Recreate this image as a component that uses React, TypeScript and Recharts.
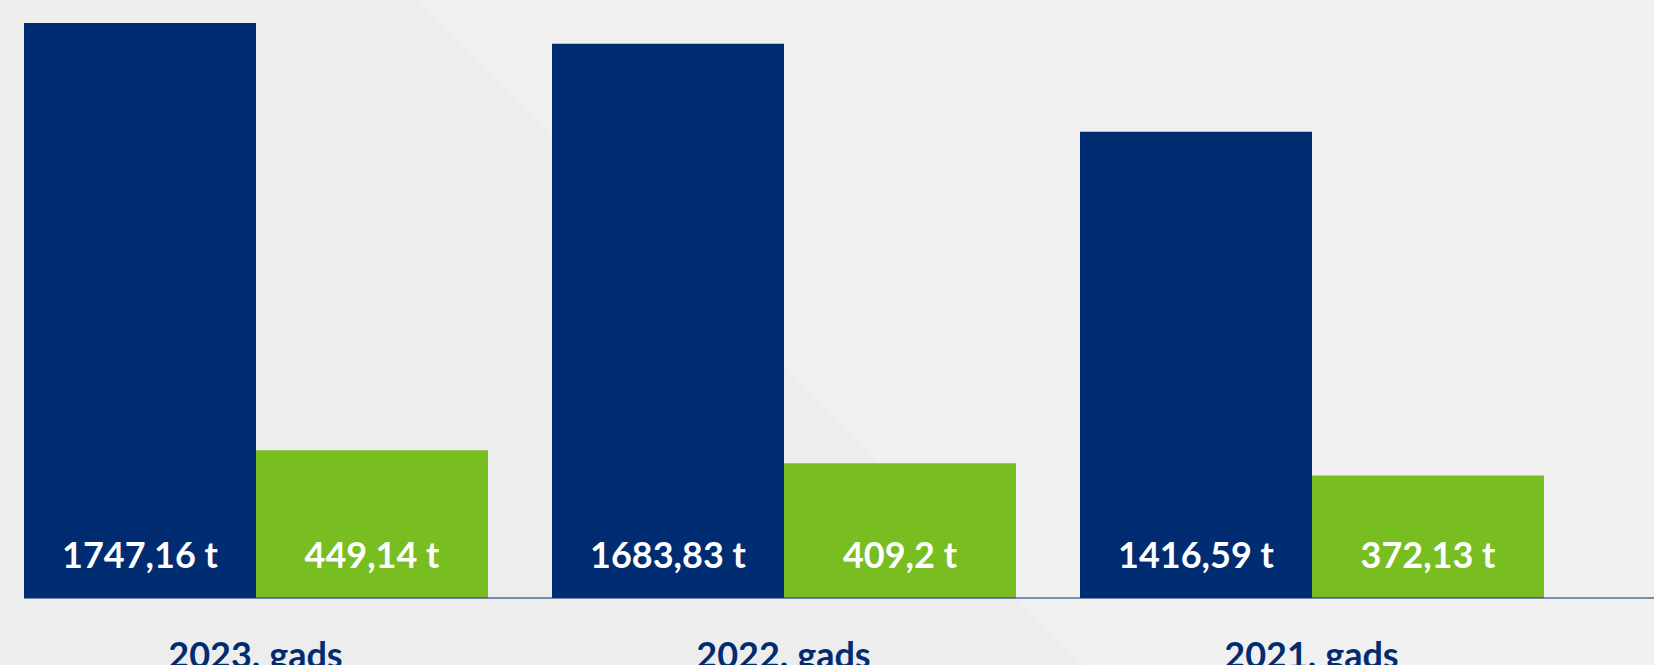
import { BarChart, Bar, XAxis, YAxis, LabelList } from 'recharts';

const years = ['2023. gads', '2022. gads', '2021. gads'];
const navyValues = [1747.16, 1683.83, 1416.59];
const greenValues = [449.14, 409.2, 372.13];

const NAVY = '#002D72';
const GREEN = '#78BE21';
const FONT = 'Lato, "Noto Sans", sans-serif';

const data = years.map((year, i) => ({
  year,
  navy: navyValues[i],
  green: greenValues[i],
}));

const formatTonnes = (v: unknown) => `${String(v).replace('.', ',')} t`;

function YearTick({ x, y, payload }: { x?: number; y?: number; payload?: { value: string } }) {
  return (
    <text
      x={x}
      y={(y ?? 0) + 70}
      textAnchor="middle"
      fill={NAVY}
      fontFamily={FONT}
      fontWeight={700}
      fontSize={36}
    >
      {payload?.value}
    </text>
  );
}

export default function App() {
  return (
    <div
      style={{
        position: 'absolute',
        left: 0,
        top: 0,
        width: 1654,
        height: 665,
        overflow: 'hidden',
        background: '#EDEDED',
      }}
    >
      {/* soft diagonal panel behind the chart */}
      <svg width={1654} height={665} style={{ position: 'absolute', left: 0, top: 0 }}>
        <polygon points="416,0 1654,0 1654,665 1081,665" fill="#F0F0F0" />
      </svg>
      <div style={{ position: 'absolute', left: 0, top: 0 }}>
        <BarChart
          width={1654}
          height={665}
          data={data}
          margin={{ top: 23, right: 0, left: 24, bottom: 0 }}
          barGap={0}
          barCategoryGap={32.5}
        >
          <XAxis
            dataKey="year"
            height={67}
            padding={{ left: -32.5, right: 78.5 }}
            axisLine={{ stroke: NAVY, strokeWidth: 1 }}
            tickLine={false}
            tickSize={0}
            tickMargin={0}
            tick={<YearTick />}
            interval={0}
          />
          <YAxis hide domain={[0, 'dataMax']} />
          <Bar dataKey="navy" fill={NAVY} isAnimationActive={false}>
            <LabelList
              dataKey="navy"
              position="insideBottom"
              offset={30}
              formatter={formatTonnes}
              fill="#FFFFFF"
              fontFamily={FONT}
              fontWeight={700}
              fontSize={36}
            />
          </Bar>
          <Bar dataKey="green" fill={GREEN} isAnimationActive={false}>
            <LabelList
              dataKey="green"
              position="insideBottom"
              offset={30}
              formatter={formatTonnes}
              fill="#FFFFFF"
              fontFamily={FONT}
              fontWeight={700}
              fontSize={36}
            />
          </Bar>
        </BarChart>
      </div>
    </div>
  );
}
